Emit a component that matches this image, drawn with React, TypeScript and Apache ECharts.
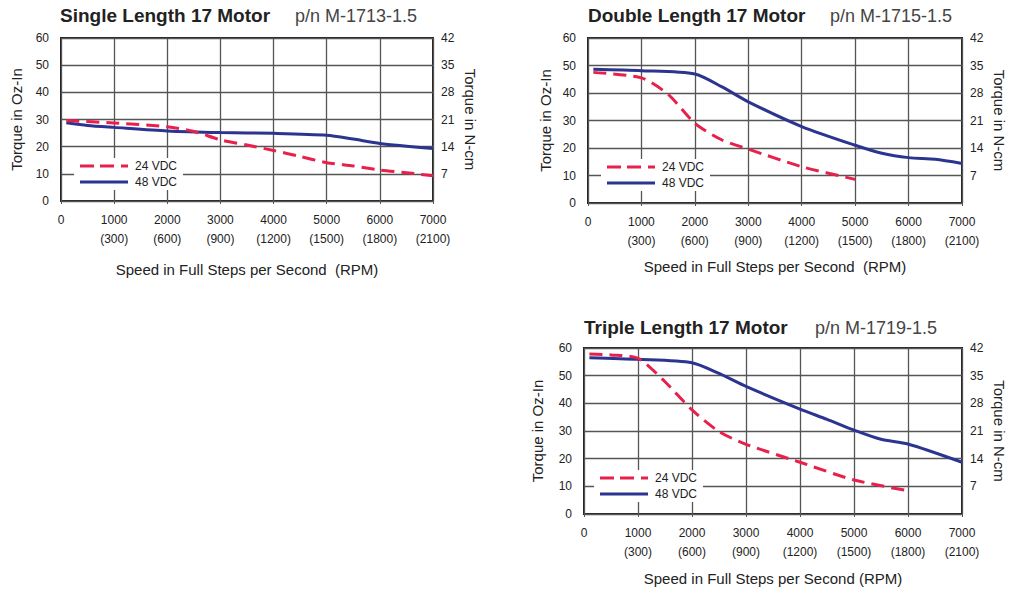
import React, { useEffect, useRef } from "react";
import * as echarts from "echarts";

// ---- Data (speed in full steps/s, torque in oz-in) ----
const speedTicks = [0, 1000, 2000, 3000, 4000, 5000, 6000, 7000];
const rpmFactor = 0.3; // full steps/s -> RPM (1.8° motor)

const single24 = [[100, 29.6], [1000, 28.7], [2000, 27.3], [2500, 25.6], [3000, 22.5], [3500, 20.6], [4000, 18.6], [4500, 16.4], [5000, 14.1], [5500, 12.9], [6000, 11.4], [6500, 10.4], [7000, 9.3]];
const single48 = [[100, 28.8], [500, 27.8], [1000, 27.1], [2000, 25.8], [3000, 25.2], [4000, 24.9], [5000, 24.2], [5500, 22.8], [6000, 21.2], [7000, 19.3]];

const double24 = [[100, 47.5], [1000, 45.5], [1500, 39.5], [2000, 29.0], [2500, 23.0], [3000, 19.6], [4000, 13.2], [5000, 8.6]];
const double48 = [[100, 48.6], [1000, 48.1], [2000, 46.9], [2500, 42.3], [3000, 36.8], [4000, 27.8], [5000, 21.0], [5500, 18.1], [6000, 16.5], [6500, 15.9], [7000, 14.4]];

const triple24 = [[100, 57.8], [500, 57.5], [1000, 56.3], [1500, 47.8], [2000, 37.6], [2500, 29.8], [3000, 25.2], [4000, 18.7], [5000, 12.3], [6000, 8.4]];
const triple48 = [[100, 56.5], [1000, 55.9], [2000, 54.7], [2500, 50.8], [3000, 46.1], [4000, 37.9], [4500, 34.2], [5000, 30.3], [5500, 27.0], [6000, 25.3], [7000, 18.7]];

const titles = ["Single Length 17 Motor", "Double Length 17 Motor", "Triple Length 17 Motor"];
const partNumbers = ["p/n M-1713-1.5", "p/n M-1715-1.5", "p/n M-1719-1.5"];
const xNames = [
  "Speed in Full Steps per Second  (RPM)",
  "Speed in Full Steps per Second  (RPM)",
  "Speed in Full Steps per Second (RPM)",
];
const leftName = "Torque in Oz-In";
const rightName = "Torque in N-cm";
const seriesNames = ["24 VDC", "48 VDC"];

// ---- Layout ----
const layouts = [
  { grid: { left: 61, top: 38, width: 372, height: 163 }, title: [60, 6], pn: [295, 7], legend: [74, 158], lName: 37, rName: 30, xName: 61, d24: single24, d48: single48 },
  { grid: { left: 588, top: 38, width: 374, height: 165 }, title: [588, 6], pn: [830, 7], legend: [601, 159], lName: 35, rName: 30, xName: 56, d24: double24, d48: double48 },
  { grid: { left: 584, top: 348, width: 378, height: 166 }, title: [584, 318], pn: [815, 319], legend: [594, 470], lName: 39, rName: 30, xName: 57, d24: triple24, d48: triple48 },
];

const RED = "#e8204c";
const BLUE = "#2b3590";
const FONT = "'Liberation Sans', Arial, Helvetica, sans-serif";
const ICON_DASHED = "path://M0 0H14V3H0Z M20 0H34V3H20Z M41 0H48V3H41Z";
const ICON_SOLID = "path://M0 0H48V3H0Z";

export default function App() {
  const ref = useRef<HTMLDivElement>(null);
  useEffect(() => {
    if (!ref.current) return;
    const chart = echarts.init(ref.current, undefined, { renderer: "svg" });

    const title: any[] = [];
    const grid: any[] = [];
    const xAxis: any[] = [];
    const yAxis: any[] = [];
    const series: any[] = [];
    const legend: any[] = [];

    layouts.forEach((L, i) => {
      title.push({
        text: titles[i],
        left: L.title[0],
        top: L.title[1],
        padding: 0,
        textStyle: { fontFamily: FONT, fontSize: 19, fontWeight: "bold", color: "#222" },
      });
      title.push({
        text: partNumbers[i],
        left: L.pn[0],
        top: L.pn[1],
        padding: 0,
        textStyle: { fontFamily: FONT, fontSize: 18, fontWeight: "normal", color: "#444" },
      });
      grid.push({ ...L.grid, show: true, borderColor: "#222", borderWidth: 2, backgroundColor: "transparent" });
      xAxis.push({
        type: "value",
        gridIndex: i,
        min: speedTicks[0],
        max: speedTicks[speedTicks.length - 1],
        interval: 1000,
        name: xNames[i],
        nameLocation: "middle",
        nameGap: L.xName,
        nameTextStyle: { fontFamily: FONT, fontSize: 15, color: "#222" },
        axisLine: { show: false },
        axisTick: { show: true, length: 3, lineStyle: { color: "#555" } },
        splitLine: { show: true, lineStyle: { color: "#555", width: 1.3 } },
        axisLabel: {
          fontFamily: FONT,
          fontSize: 12,
          color: "#222",
          lineHeight: 19,
          margin: 9,
          formatter: (v: number) => (v === 0 ? "0" : `${v}\n(${Math.round(v * rpmFactor)})`),
        },
      });
      yAxis.push({
        type: "value",
        gridIndex: i,
        position: "left",
        min: 0,
        max: 60,
        interval: 10,
        name: leftName,
        nameLocation: "middle",
        nameGap: L.lName,
        nameRotate: 90,
        nameTextStyle: { fontFamily: FONT, fontSize: 15, color: "#222" },
        axisLine: { show: false },
        axisTick: { show: false },
        splitLine: { show: true, lineStyle: { color: "#555", width: 1.3 } },
        axisLabel: { fontFamily: FONT, fontSize: 12, color: "#222", margin: 12 },
      });
      yAxis.push({
        type: "value",
        gridIndex: i,
        position: "right",
        min: 0,
        max: 42,
        interval: 7,
        name: rightName,
        nameLocation: "middle",
        nameGap: L.rName,
        nameRotate: -90,
        nameTextStyle: { fontFamily: FONT, fontSize: 15, color: "#222" },
        axisLine: { show: false },
        axisTick: { show: false },
        splitLine: { show: false },
        axisLabel: {
          fontFamily: FONT,
          fontSize: 12,
          color: "#222",
          margin: 8,
          formatter: (v: number) => (v === 0 ? "" : String(v)),
        },
      });
      series.push({
        name: seriesNames[0],
        type: "line",
        xAxisIndex: i,
        yAxisIndex: 2 * i,
        data: L.d24,
        symbol: "none",
        smooth: 0.25,
        lineStyle: { color: RED, width: 3, type: [13, 7] },
        itemStyle: { color: RED },
        z: 3,
      });
      series.push({
        name: seriesNames[1],
        type: "line",
        xAxisIndex: i,
        yAxisIndex: 2 * i,
        data: L.d48,
        symbol: "none",
        smooth: 0.25,
        lineStyle: { color: BLUE, width: 3 },
        itemStyle: { color: BLUE },
        z: 2,
      });
      legend.push({
        data: [
          { name: seriesNames[0], icon: ICON_DASHED, itemStyle: { color: RED } },
          { name: seriesNames[1], icon: ICON_SOLID, itemStyle: { color: BLUE } },
        ],
        orient: "vertical",
        left: L.legend[0],
        top: L.legend[1],
        itemWidth: 48,
        itemHeight: 14,
        itemGap: 4,
        padding: [2, 6, 2, 6],
        backgroundColor: "#fff",
        selectedMode: false,
        textStyle: { fontFamily: FONT, fontSize: 12, color: "#222", padding: [0, 0, 0, 2] },
        z: 10,
      });
    });

    chart.setOption({
      animation: false,
      textStyle: { fontFamily: FONT },
      title,
      grid,
      xAxis,
      yAxis,
      series,
      legend,
    });
    return () => chart.dispose();
  }, []);

  return (
    <div
      ref={ref}
      style={{ position: "absolute", left: 0, top: 0, width: 1021, height: 590, background: "#fff" }}
    />
  );
}
